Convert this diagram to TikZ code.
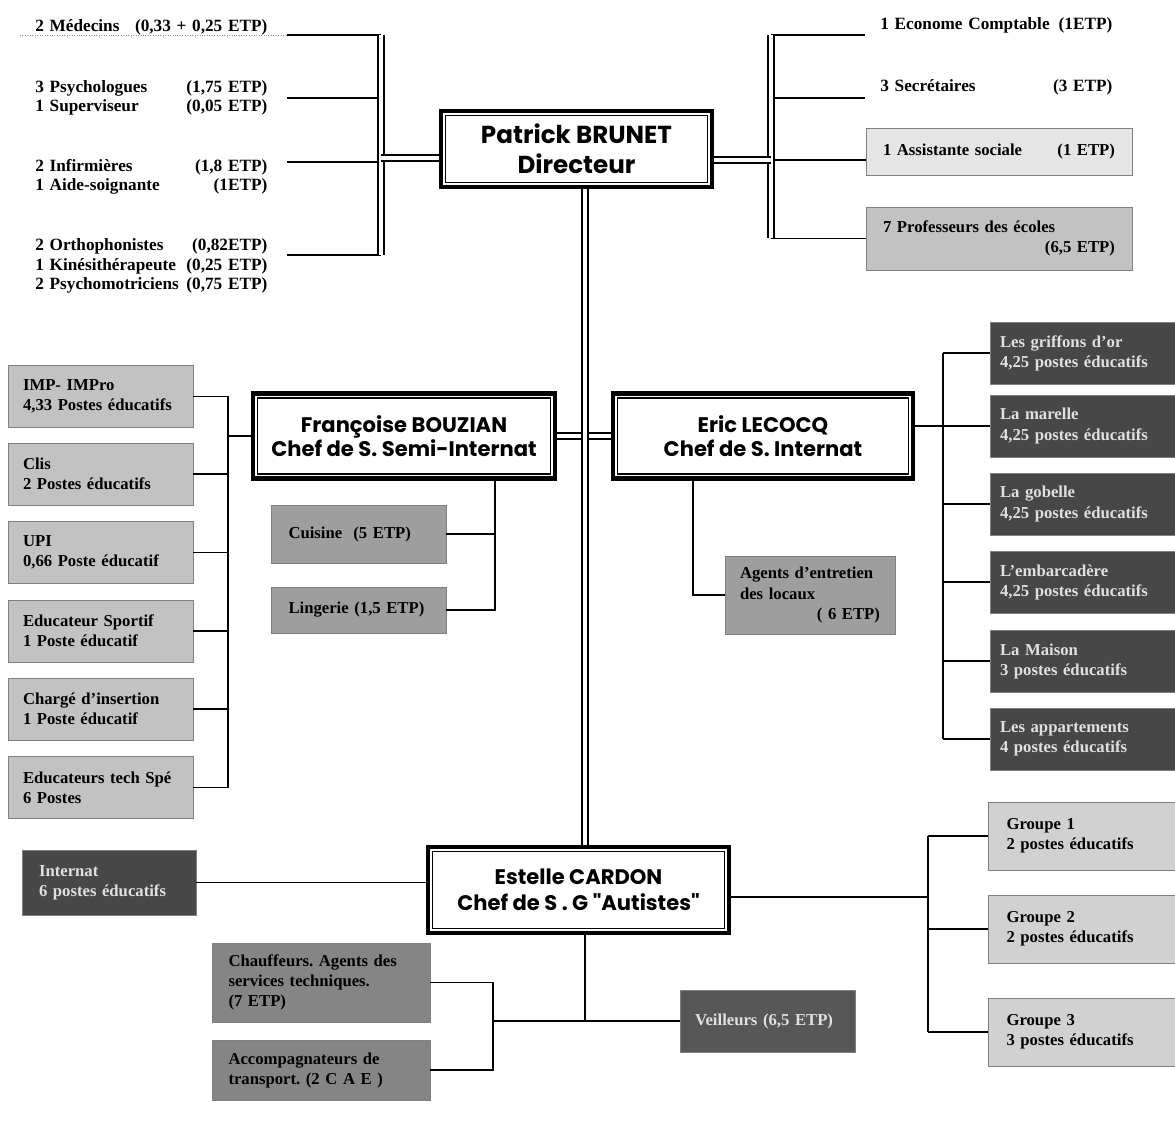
\documentclass[tikz,border=0pt]{standalone}
\usepackage{fontspec}
\setmainfont{Liberation Serif}
\newfontfamily\titlefont{Poppins}
\usepackage{tikz}
\frenchspacing

\begin{document}
\begin{tikzpicture}[x=0.02cm,y=-0.02cm]
\tikzset{chief/.style = {draw,line width=2.4pt,fill=white,align=center,inner sep=0pt,font=\titlefont\bfseries\fontsize{12}{14}\selectfont}}
\tikzset{innerframe/.style = {draw,line width=0.8pt}}
\tikzset{staff/.style = {anchor=west,inner sep=0pt,text width=4.64cm,align=left,font=\bfseries\fontsize{9.8}{11}\selectfont}}
\tikzset{ubox/.style = {draw=black!50,line width=0.4pt,align=left,inner ysep=2pt,font=\bfseries\fontsize{9.5}{11.4}\selectfont}}
\tikzset{upale/.style = {ubox,fill=black!10}}
\tikzset{usoft/.style = {ubox,fill=black!24}}
\tikzset{umid/.style = {ubox,fill=black!38}}
\tikzset{udeep/.style = {ubox,fill=black!48}}
\tikzset{udark/.style = {ubox,fill=black!72,text=black!12}}
\tikzset{wire/.style = {line width=1pt}}
\tikzset{dwire/.style = {double,double distance=2.2pt,line width=1.4pt}}

\useasboundingbox (0,0) rectangle (1175,1124);

% heads
\node[chief,minimum width=5.42cm,minimum height=1.52cm,font=\titlefont\bfseries\fontsize{14}{17}\selectfont] (dir) at (576.5,149) {Patrick BRUNET\\Directeur};
\node[chief,minimum width=6.04cm,minimum height=1.7cm] (semi) at (404,436) {Françoise BOUZIAN\\Chef de S. Semi-Internat};
\node[chief,minimum width=6cm,minimum height=1.7cm] (inter) at (763,436) {Eric LECOCQ\\Chef de S. Internat};
\node[chief,minimum width=6.02cm,minimum height=1.72cm,font=\titlefont\bfseries\fontsize{12}{15}\selectfont] (aut) at (578.5,890) {Estelle CARDON\\Chef de S . G "Autistes"};

% staff of the director
\node[staff] (med) at (35,27) {\makebox[\linewidth]{2 Médecins\hfill(0,33 + 0,25 ETP)}};
\node[staff] (psy) at (35,98) {\makebox[\linewidth]{3 Psychologues\hfill(1,75 ETP)}\\\makebox[\linewidth]{1 Superviseur\hfill(0,05 ETP)}};
\node[staff] (inf) at (35,177) {\makebox[\linewidth]{2 Infirmières\hfill(1,8 ETP)}\\\makebox[\linewidth]{1 Aide-soignante\hfill(1ETP)}};
\node[staff] (ortho) at (35,266) {\makebox[\linewidth]{2 Orthophonistes\hfill(0,82ETP)}\\\makebox[\linewidth]{1 Kinésithérapeute\hfill(0,25 ETP)}\\\makebox[\linewidth]{2 Psychomotriciens\hfill(0,75 ETP)}};

\node[staff] (eco) at (880,25) {\makebox[\linewidth]{1 Econome Comptable\hfill(1ETP)}};
\node[staff] (sec) at (880,87) {\makebox[\linewidth]{3 Secrétaires\hfill(3 ETP)}};
\node[upale,text width=4.64cm,inner xsep=0.34cm,minimum height=0.94cm] (ass) at (999,151.5) {\makebox[\linewidth]{1 Assistante sociale\hfill(1 ETP)}};
\node[usoft,text width=4.64cm,inner xsep=0.34cm,minimum height=1.26cm] (prof) at (999,238.5) {7 Professeurs des écoles\\\makebox[\linewidth][r]{(6,5 ETP)}};

% semi-internat
\node[usoft,text width=3.1cm,inner xsep=0.3cm,minimum height=1.24cm] (imp) at (100.5,396.5) {IMP- IMPro\\4,33 Postes éducatifs};
\node[usoft,text width=3.1cm,inner xsep=0.3cm,minimum height=1.24cm] (clis) at (100.5,474) {Clis\\2 Postes éducatifs};
\node[usoft,text width=3.1cm,inner xsep=0.3cm,minimum height=1.24cm] (upi) at (100.5,552.5) {UPI\\0,66 Poste éducatif};
\node[usoft,text width=3.1cm,inner xsep=0.3cm,minimum height=1.24cm] (sport) at (100.5,631) {Educateur Sportif\\1 Poste éducatif};
\node[usoft,text width=3.1cm,inner xsep=0.3cm,minimum height=1.24cm] (insert) at (100.5,709) {Chargé d'insertion\\1 Poste éducatif};
\node[usoft,text width=3.1cm,inner xsep=0.3cm,minimum height=1.24cm] (tech) at (100.5,787.5) {Educateurs tech Spé\\6 Postes};

\node[umid,text width=2.8cm,inner xsep=0.35cm,minimum height=1.16cm] (cuis) at (358.5,534) {Cuisine~ (5 ETP)};
\node[umid,text width=2.8cm,inner xsep=0.35cm,minimum height=0.92cm] (ling) at (358.5,610) {Lingerie (1,5 ETP)};

% internat
\node[umid,text width=2.8cm,inner xsep=0.3cm,minimum height=1.56cm] (agents) at (810,595) {Agents d'entretien\\des locaux\\\makebox[\linewidth][r]{( 6 ETP)}};

\node[udark,text width=3.4cm,inner xsep=0.2cm,minimum height=1.24cm] (grif) at (1085,353) {Les griffons d'or\\4,25 postes éducatifs};
\node[udark,text width=3.4cm,inner xsep=0.2cm,minimum height=1.24cm] (mar) at (1085,426) {La marelle\\4,25 postes éducatifs};
\node[udark,text width=3.4cm,inner xsep=0.2cm,minimum height=1.24cm] (gob) at (1085,504) {La gobelle\\4,25 postes éducatifs};
\node[udark,text width=3.4cm,inner xsep=0.2cm,minimum height=1.24cm] (emb) at (1085,582) {L'embarcadère\\4,25 postes éducatifs};
\node[udark,text width=3.4cm,inner xsep=0.2cm,minimum height=1.24cm] (mais) at (1085,661) {La Maison\\3 postes éducatifs};
\node[udark,text width=3.4cm,inner xsep=0.2cm,minimum height=1.24cm] (app) at (1085,739) {Les appartements\\4 postes éducatifs};

% autistes
\node[udark,text width=2.8cm,inner xsep=0.34cm,minimum height=1.3cm] (intn) at (109,882.5) {Internat\\6 postes éducatifs};
\node[usoft,text width=3.1cm,inner xsep=0.37cm,minimum height=1.36cm,fill=black!18] (g1) at (1084,836) {Groupe 1\\2 postes éducatifs};
\node[usoft,text width=3.1cm,inner xsep=0.37cm,minimum height=1.36cm,fill=black!18] (g2) at (1084,929) {Groupe 2\\2 postes éducatifs};
\node[usoft,text width=3.1cm,inner xsep=0.37cm,minimum height=1.36cm,fill=black!18] (g3) at (1084,1032) {Groupe 3\\3 postes éducatifs};
\node[udeep,text width=3.7cm,inner xsep=0.33cm,minimum height=1.58cm] (chauf) at (321,982.5) {Chauffeurs. Agents des\\services techniques.\\(7 ETP)};
\node[udeep,text width=3.7cm,inner xsep=0.33cm,minimum height=1.2cm] (accomp) at (321,1070) {Accompagnateurs de\\transport. (2 C A E )};
\node[udark,text width=2.9cm,inner xsep=0.3cm,minimum height=1.24cm,fill=black!66] (veil) at (767.5,1021) {Veilleurs (6,5 ETP)};

% inner frames of the heads
\draw[innerframe] ([shift={(3.8pt,-3.8pt)}]dir.north west) rectangle ([shift={(-3.8pt,3.8pt)}]dir.south east);
\draw[innerframe] ([shift={(3.8pt,-3.8pt)}]semi.north west) rectangle ([shift={(-3.8pt,3.8pt)}]semi.south east);
\draw[innerframe] ([shift={(3.8pt,-3.8pt)}]inter.north west) rectangle ([shift={(-3.8pt,3.8pt)}]inter.south east);
\draw[innerframe] ([shift={(3.8pt,-3.8pt)}]aut.north west) rectangle ([shift={(-3.8pt,3.8pt)}]aut.south east);

% left bar
\coordinate (lt) at (381,35);
\coordinate (lm) at (381,158);
\coordinate (lb) at (381,255);
\coordinate (m0) at (20,35);
\coordinate (m1) at (287,35);
\coordinate (m2) at (287,98);
\coordinate (m3) at (287,162);
\coordinate (m4) at (287,255);
\draw[black!45,densely dotted] (m0) -- (m1);
\draw[wire] (m1) -- (m1 -| lt);
\draw[wire] (m2) -- (m2 -| lt);
\draw[wire] (m3) -- (m3 -| lt);
\draw[wire] (m4) -- (m4 -| lt);
\draw[dwire] (lt) -- (lb);
\draw[dwire] (lm) -- (lm -| dir.west);

% right bar
\coordinate (rt) at (771,35);
\coordinate (rm) at (771,160);
\coordinate (n1) at (865,35);
\coordinate (n2) at (865,98);
\draw[wire] (rt) -- (n1);
\draw[wire] (n2 -| rt) -- (n2);
\draw[wire] (rm) -- (rm -| ass.west);
\draw[wire] (prof.west -| rt) -- (prof.west);
\draw[dwire] (rt) -- (prof.west -| rt);
\draw[dwire] (rm -| dir.east) -- (rm);

% semi-internat tree
\coordinate (lv) at (228,436);
\draw[wire] (imp.east) -- (imp.east -| lv);
\draw[wire] (clis.east) -- (clis.east -| lv);
\draw[wire] (upi.east) -- (upi.east -| lv);
\draw[wire] (sport.east) -- (sport.east -| lv);
\draw[wire] (insert.east) -- (insert.east -| lv);
\draw[wire] (tech.east) -- (tech.east -| lv);
\draw[wire,line width=1.3pt] (imp.east -| lv) -- (tech.east -| lv);
\draw[wire,line width=1.3pt] (lv) -- (semi.west);
\coordinate (sv) at (495,610);
\draw[wire] (semi.south -| sv) |- (ling.east);
\draw[wire] (cuis.east) -- (cuis.east -| sv);

% internat tree
\coordinate (iv) at (693,595);
\draw[wire,line width=1.3pt] (inter.south -| iv) |- (agents.west);
\coordinate (rv) at (943,426);
\draw[wire,line width=1.3pt] (inter.east |- mar.west) -- (mar.west);
\draw[wire] (grif.west -| rv) -- (grif.west);
\draw[wire] (gob.west -| rv) -- (gob.west);
\draw[wire] (emb.west -| rv) -- (emb.west);
\draw[wire] (mais.west -| rv) -- (mais.west);
\draw[wire] (app.west -| rv) -- (app.west);
\draw[wire,line width=1.3pt] (grif.west -| rv) -- (app.west -| rv);

% autistes tree
\draw[wire] (intn.east) -- (intn.east -| aut.west);
\coordinate (gv) at (928,897);
\draw[wire] (aut.east |- gv) -- (gv);
\draw[wire] (g1.west -| gv) -- (g1.west);
\draw[wire] (g2.west -| gv) -- (g2.west);
\draw[wire] (g3.west -| gv) -- (g3.west);
\draw[wire] (g1.west -| gv) -- (g3.west -| gv);
\coordinate (bv) at (585,1021);
\coordinate (cv) at (493,1021);
\draw[wire] (aut.south -| bv) -- (bv);
\draw[wire] (cv) -- (veil.west);
\draw[wire] (chauf.east) -- (chauf.east -| cv) -- (accomp.east -| cv) -- (accomp.east);

% spine
\coordinate (sp) at (585,436);
\draw[dwire] (semi.east) -- (inter.west);
\draw[dwire] (dir.south -| sp) -- (aut.north -| sp);
\end{tikzpicture}
\end{document}
